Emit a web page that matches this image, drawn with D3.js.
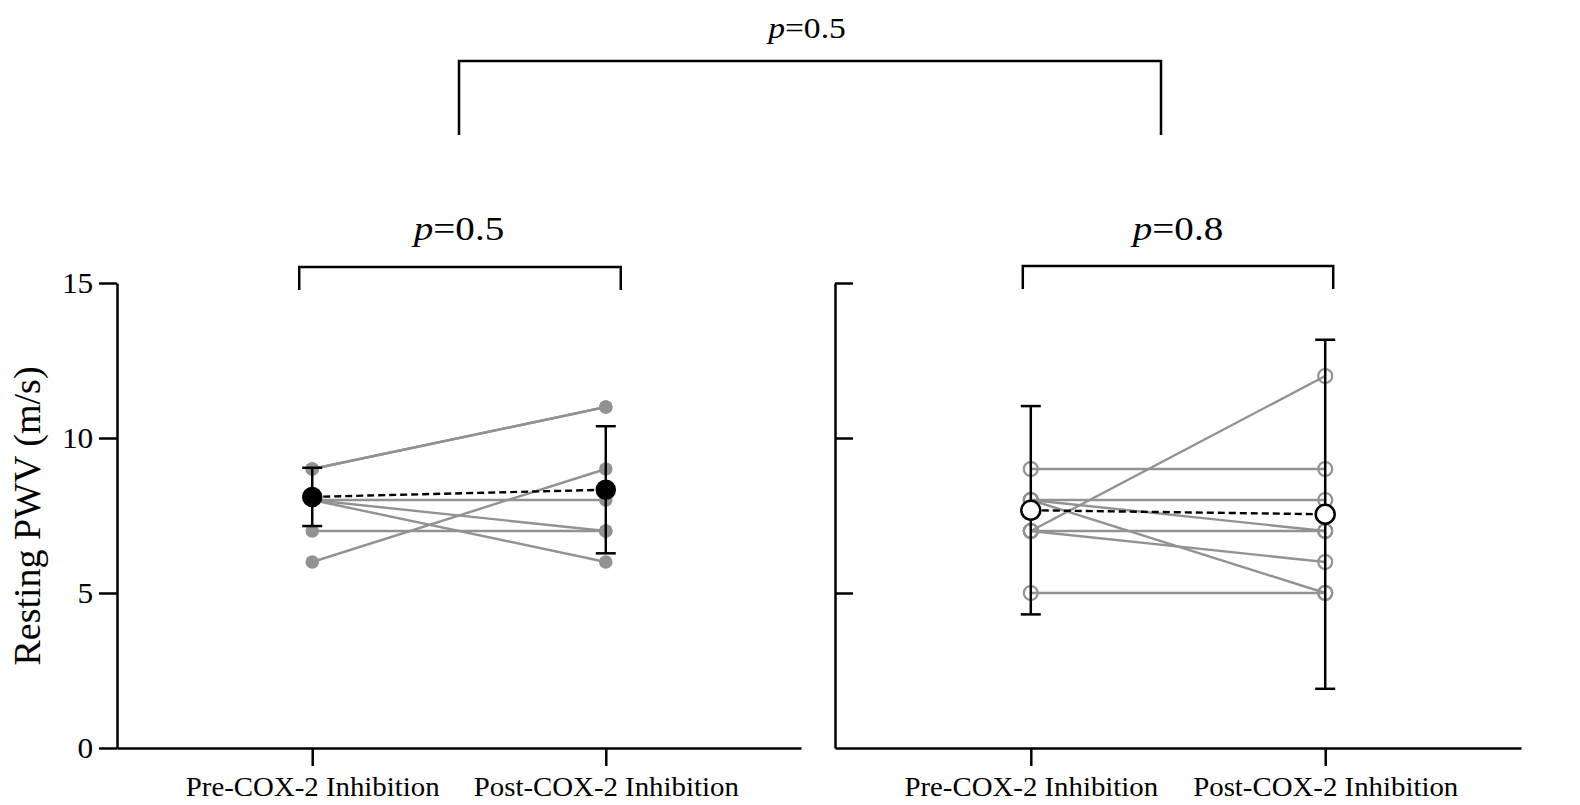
<!DOCTYPE html>
<html>
<head>
<meta charset="utf-8">
<script src="https://cdn.jsdelivr.net/npm/d3@7"></script>
<style>
  body { margin: 0; background: #fff; }
  svg { display: block; }
  text { font-family: "Liberation Serif", "Times New Roman", serif; fill: #000; }
</style>
</head>
<body>
<svg width="1580" height="805"></svg>
<script>
// categories + tick labels
const groups = ["Pre-COX-2 Inhibition", "Post-COX-2 Inhibition"];
const yTicks = [0, 5, 10, 15];

// left panel: individual subjects (filled)
const leftPre  = [9, 9, 8, 8, 8, 7, 6];
const leftPost = [11, 11, 8, 7, 6, 7, 9];
const leftMean = [8.1, 8.33];
const leftSD   = [0.94, 2.05];

// right panel: individual subjects (open)
const rightPre  = [9, 8, 8, 8, 7, 7, 7, 5];
const rightPost = [9, 8, 7, 5, 12, 7, 6, 5];
const rightMean = [7.67, 7.54];
const rightSD   = [3.36, 5.63];

// p values
const pLeft = "0.5", pRight = "0.8", pTop = "0.5";

window.onload = () => {
  const svg = d3.select("svg");
  const grey = "#929292";
  const axisW = 2.5;

  const y = d3.scaleLinear().domain([0, 15]).range([748, 283]);

  const makePanel = (left, width, pre, post, mean, sd, filled, showLabels) => {
    const x = d3.scalePoint().domain(groups).range([0, width]).padding(0.665);
    const g = svg.append("g").attr("transform", `translate(${left},0)`);

    // y axis
    const yAxis = showLabels
      ? d3.axisLeft(y).tickValues(yTicks).tickSize(18).tickSizeOuter(0).tickPadding(4)
      : d3.axisRight(y).tickValues(yTicks.slice(1)).tickSize(18).tickSizeOuter(0).tickFormat("");
    const yG = g.append("g").call(yAxis);
    yG.selectAll("path, line").attr("stroke", "#000").attr("stroke-width", axisW);
    yG.selectAll("text").style("font-size", "29px").attr("dy", "0.34em")
      .attr("transform", "scale(1.08,1)");

    // x axis
    const xG = g.append("g").attr("transform", `translate(0,${y(0)})`)
      .call(d3.axisBottom(x).tickSize(18).tickSizeOuter(0));
    xG.selectAll("path, line").attr("stroke", "#000").attr("stroke-width", axisW);
    xG.selectAll("text").style("font-size", "28px")
      .attr("y", 48).attr("dy", 0).attr("transform", "scale(1.03,1)");

    // subjects
    const subj = pre.map((v, i) => [v, post[i]]);
    g.append("g").selectAll("line").data(subj).join("line")
      .attr("x1", x(groups[0])).attr("x2", x(groups[1]))
      .attr("y1", d => y(d[0])).attr("y2", d => y(d[1]))
      .attr("stroke", grey).attr("stroke-width", 2.4);

    const pts = [];
    subj.forEach(d => { pts.push([0, d[0]]); pts.push([1, d[1]]); });
    g.append("g").selectAll("circle").data(pts).join("circle")
      .attr("cx", d => x(groups[d[0]])).attr("cy", d => y(d[1]))
      .attr("r", filled ? 6.8 : 7)
      .attr("fill", filled ? grey : "none")
      .attr("stroke", filled ? "none" : grey)
      .attr("stroke-width", 2.2);

    // error bars (mean ± SD)
    const eb = g.append("g").attr("stroke", "#000").attr("stroke-width", 2.5);
    groups.forEach((c, i) => {
      const cx = x(c);
      eb.append("line").attr("x1", cx).attr("x2", cx)
        .attr("y1", y(mean[i] - sd[i])).attr("y2", y(mean[i] + sd[i]));
      [mean[i] - sd[i], mean[i] + sd[i]].forEach(v => {
        eb.append("line").attr("x1", cx - 10).attr("x2", cx + 10)
          .attr("y1", y(v)).attr("y2", y(v));
      });
    });

    // mean line
    g.append("line")
      .attr("x1", x(groups[0])).attr("x2", x(groups[1]))
      .attr("y1", y(mean[0])).attr("y2", y(mean[1]))
      .attr("stroke", "#000").attr("stroke-width", 2.4)
      .attr("stroke-dasharray", "7,4");

    g.append("g").selectAll("circle").data(mean).join("circle")
      .attr("cx", (d, i) => x(groups[i])).attr("cy", d => y(d))
      .attr("r", filled ? 9 : 9.5)
      .attr("fill", filled ? "#000" : "#fff")
      .attr("stroke", "#000").attr("stroke-width", 2.5);

    return { x, g };
  };

  const L = makePanel(117, 684, leftPre, leftPost, leftMean, leftSD, true, true);
  const R = makePanel(835, 686, rightPre, rightPost, rightMean, rightSD, false, false);

  // y axis title
  svg.append("text")
    .attr("transform", "translate(40,516) rotate(-90)")
    .attr("text-anchor", "middle")
    .style("font-size", "38px")
    .text("Resting PWV (m/s)");

  // brackets
  const bracket = (x1, x2, top, bottom) => {
    svg.append("path")
      .attr("d", `M${x1},${bottom}V${top}H${x2}V${bottom}`)
      .attr("fill", "none").attr("stroke", "#000").attr("stroke-width", 2.5);
  };
  const pLabel = (cx, base, val, size, sx) => {
    const t = svg.append("text")
      .attr("transform", `translate(${cx},${base}) scale(${sx},1)`)
      .attr("text-anchor", "middle")
      .style("font-size", size + "px");
    t.append("tspan").style("font-style", "italic").text("p");
    t.append("tspan").text("=" + val);
  };

  const lx0 = 117 + L.x(groups[0]), lx1 = 117 + L.x(groups[1]);
  const rx0 = 835 + R.x(groups[0]), rx1 = 835 + R.x(groups[1]);

  bracket(lx0 - 13, lx1 + 15, 267, 290);
  pLabel((lx0 + lx1) / 2, 240, pLeft, 34, 1.15);

  bracket(rx0 - 8, rx1 + 8, 266, 289);
  pLabel((rx0 + rx1) / 2, 240, pRight, 34, 1.15);

  bracket(459, 1161, 61, 135);
  pLabel(807, 38, pTop, 30, 1.12);
};
</script>
</body>
</html>
